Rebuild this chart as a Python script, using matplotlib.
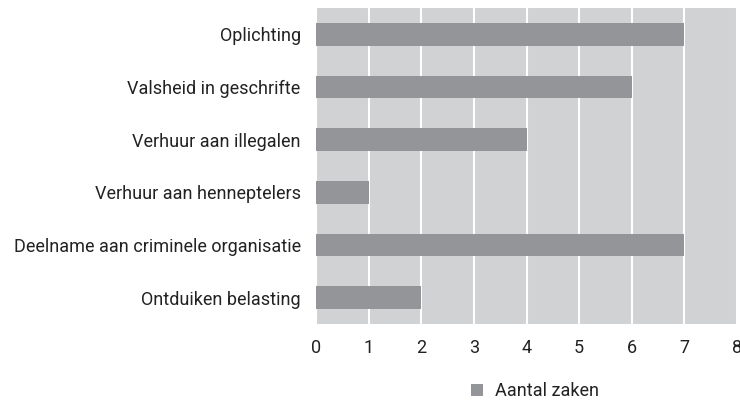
import matplotlib.pyplot as plt
from matplotlib.patches import Patch

plt.rcParams['font.family'] = ['Roboto', 'DejaVu Sans']

categories = ["Oplichting", "Valsheid in geschrifte", "Verhuur aan illegalen",
              "Verhuur aan henneptelers", "Deelname aan criminele organisatie",
              "Ontduiken belasting"]
aantal_zaken = [7, 6, 4, 1, 7, 2]
series_name = "Aantal zaken"

bar_color = "#939598"
bg_color = "#d1d2d4"
txt = "#222222"
fs = 13

fig = plt.figure(figsize=(7.4, 4.03), dpi=100)
ax = fig.add_axes([316 / 740, 1 - 324 / 403, 421 / 740, 316 / 403])

ypos = list(range(len(categories)))
ax.barh(ypos, aantal_zaken, height=0.43, color=bar_color, zorder=3)
ax.set_ylim(len(categories) - 0.5, -0.5)
ax.set_yticks(ypos)
ax.set_yticklabels(categories)
ax.set_xlim(0, 8)
ax.set_xticks(range(0, 9))

ax.set_facecolor(bg_color)
ax.grid(axis='x', color='white', linewidth=1.5, zorder=1)
ax.grid(axis='y', visible=False)
for s in ax.spines.values():
    s.set_visible(False)
ax.tick_params(axis='y', length=0, pad=11, labelsize=fs, labelcolor=txt)
ax.tick_params(axis='x', length=0, pad=11, labelsize=fs, labelcolor=txt)

handle = Patch(facecolor=bar_color, edgecolor='none')
fig.legend([handle], [series_name], loc='center', bbox_to_anchor=(0.723, 1 - 391 / 403),
           frameon=False, fontsize=fs, handlelength=0.65, handleheight=0.65,
           handletextpad=0.7, labelcolor=txt)

fig.savefig("out.png", dpi=100)
